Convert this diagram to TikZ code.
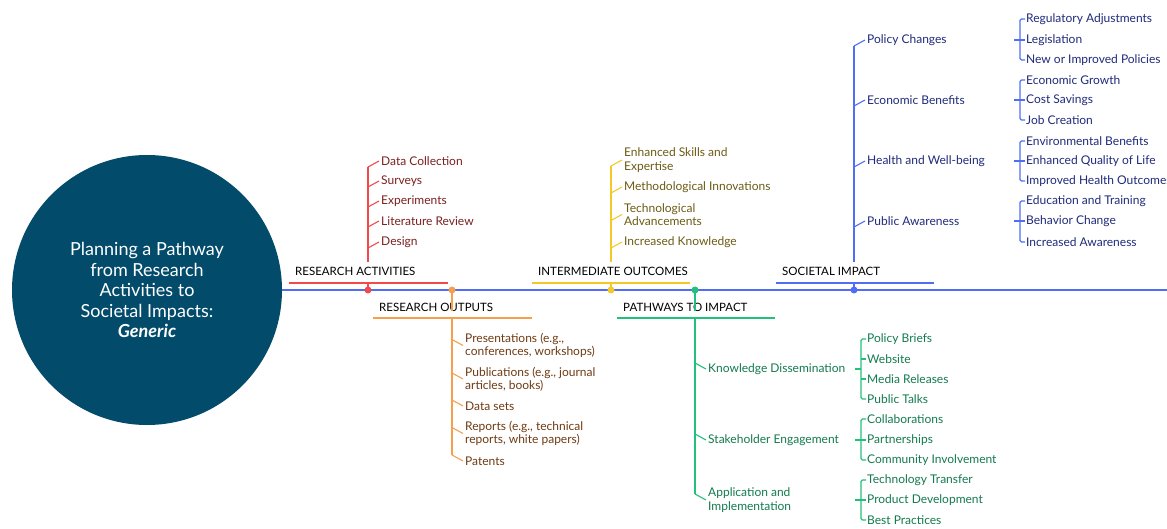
\documentclass[tikz,border=0pt]{standalone}
\usepackage{fontspec}
\setmainfont{Lato}
\usetikzlibrary{calc}
\definecolor{circ}{HTML}{034B6B}
\definecolor{mainb}{HTML}{4F6EF5}
\definecolor{redl}{HTML}{F24A4A}
\definecolor{redt}{HTML}{7A1F1F}
\definecolor{orl}{HTML}{F5A04E}
\definecolor{ort}{HTML}{6E3A12}
\definecolor{yel}{HTML}{F5C82A}
\definecolor{yet}{HTML}{6B5B14}
\definecolor{grl}{HTML}{22C07A}
\definecolor{grt}{HTML}{137A4E}
\definecolor{blt}{HTML}{1F2A7A}
\newcommand\brk[5]{%
  \draw[#1] (#5 |- #2.west) -- ++(6,0);
  \draw[#1,rounded corners=1.5pt] ($(#3.west)+(-1,0)$) -| ($(#4.west)+(-6,0)$) -- ($(#4.west)+(-1,0)$);
}
\newcommand\midtick[2]{\draw[#1] ($(#2.west)+(-6,0)$) -- ($(#2.west)+(-1,0)$);}
\begin{document}
\begin{tikzpicture}[x=1pt,y=-1pt,
  leaf/.style={anchor=west, inner sep=0pt, font=\fontsize{12}{13.5}\selectfont, align=left},
  head/.style={anchor=west, inner sep=0pt, font=\fontsize{11.5}{12}\selectfont, text=black},
  dotn/.style={circle, inner sep=0pt, minimum size=7pt},
  thin/.style={line width=1.1pt},
  uline/.style={line width=1.5pt}]
\useasboundingbox (0,0) rectangle (1167,529);
\clip (0,0) rectangle (1167,529);
% centre
\node[circle, fill=circ, minimum size=270pt, text=white, align=center,
  font=\fontsize{18}{20.5}\selectfont] (c) at (147,290)
  {Planning a Pathway\\from Research\\Activities to\\Societal Impacts:\\\textbf{\textit{Generic}}};
\coordinate (endR) at (1167,290);
\draw[mainb, uline] (c.east) -- (endR);

% ---------- RESEARCH ACTIVITIES
\coordinate (raD) at (368,290);
\coordinate (raT) at (368,262);
\coordinate (raL) at (289,283); \coordinate (raR) at (448,283);
\node[head] (ra) at (295,271) {RESEARCH ACTIVITIES};
\draw[redl, uline] (raL) -- (raR);
\node[leaf, text=redt] (ra1) at (381,161) {Data Collection};
\node[leaf, text=redt] (ra2) at (381,181) {Surveys};
\node[leaf, text=redt] (ra3) at (381,201) {Experiments};
\node[leaf, text=redt] (ra4) at (381,221) {Literature Review};
\node[leaf, text=redt] (ra5) at (381,242) {Design};
\draw[redl, thin] (raT) -- ($(raD |- ra1.west)+(0,6)$);
\draw[redl, thin] (raD) -- (raD |- raL);
\foreach \n in {ra1,ra2,ra3,ra4,ra5}
  \draw[redl, thin] ($(raD |- \n.west)+(0,6)$) -- ($(\n.west)+(-2,0)$);
\node[dotn, fill=redl] (raDot) at (raD) {};

% ---------- RESEARCH OUTPUTS
\coordinate (roD) at (452,290);
\coordinate (roL) at (373,318); \coordinate (roR) at (532,318);
\node[head] (ro) at (379,307) {RESEARCH OUTPUTS};
\node[leaf, text=ort] (ro1) at (465,345.5) {Presentations (e.g.,\\conferences, workshops)};
\node[leaf, text=ort] (ro2) at (465,379) {Publications (e.g., journal\\articles, books)};
\node[leaf, text=ort] (ro3) at (465,406) {Data sets};
\node[leaf, text=ort] (ro4) at (465,433.5) {Reports (e.g., technical\\reports, white papers)};
\node[leaf, text=ort] (ro5) at (465,461) {Patents};
\draw[orl, thin] (roD) -- (roD |- ro.south);
\draw[orl, uline] (roL) -- (roR);
\draw[orl, thin] (roD |- roL) -- ($(roD |- ro5.west)+(0,-6)$);
\foreach \n in {ro1,ro2,ro3,ro4,ro5}
  \draw[orl, thin] ($(roD |- \n.west)+(0,-6)$) -- ($(\n.west)+(-2,0)$);
\node[dotn, fill=orl] (roDot) at (roD) {};

% ---------- INTERMEDIATE OUTCOMES
\coordinate (ioD) at (611,290);
\coordinate (ioT) at (611,262);
\coordinate (ioL) at (532,283); \coordinate (ioR) at (690,283);
\node[head] (io) at (538,271) {INTERMEDIATE OUTCOMES};
\draw[yel, uline] (ioL) -- (ioR);
\node[leaf, text=yet] (io1) at (624,160) {Enhanced Skills and\\Expertise};
\node[leaf, text=yet] (io2) at (624,187) {Methodological Innovations};
\node[leaf, text=yet] (io3) at (624,214.5) {Technological\\Advancements};
\node[leaf, text=yet] (io4) at (624,242) {Increased Knowledge};
\draw[yel, thin] (ioT) -- ($(ioD |- io1.west)+(0,6)$);
\draw[yel, thin] (ioD) -- (ioD |- ioL);
\foreach \n in {io1,io2,io3,io4}
  \draw[yel, thin] ($(ioD |- \n.west)+(0,6)$) -- ($(\n.west)+(-2,0)$);
\node[dotn, fill=yel] (ioDot) at (ioD) {};

% ---------- PATHWAYS TO IMPACT
\coordinate (piD) at (695,290);
\coordinate (piL) at (617,318); \coordinate (piR) at (775,318);
\coordinate (piS) at (855,0);
\node[head] (pi) at (623,307) {PATHWAYS TO IMPACT};
\node[leaf, text=grt] (pi1) at (708,369) {Knowledge Dissemination};
\node[leaf, text=grt] (pi2) at (708,440) {Stakeholder Engagement};
\node[leaf, text=grt] (pi3) at (708,500) {Application and\\Implementation};
\draw[grl, thin] (piD) -- (piD |- pi.south);
\draw[grl, uline] (piL) -- (piR);
\draw[grl, thin] (piD |- piL) -- ($(piD |- pi3.west)+(0,-6)$);
\foreach \n in {pi1,pi2,pi3}
  \draw[grl, thin] ($(piD |- \n.west)+(0,-6)$) -- ($(\n.west)+(-2,0)$);
\node[dotn, fill=grl] (piDot) at (piD) {};
\node[leaf, text=grt] (k1) at (867,339) {Policy Briefs};
\node[leaf, text=grt] (k2) at (867,359) {Website};
\node[leaf, text=grt] (k3) at (867,379) {Media Releases};
\node[leaf, text=grt] (k4) at (867,399) {Public Talks};
\node[leaf, text=grt] (s1) at (867,419) {Collaborations};
\node[leaf, text=grt] (s2) at (867,440) {Partnerships};
\node[leaf, text=grt] (s3) at (867,460) {Community Involvement};
\node[leaf, text=grt] (a1) at (867,480) {Technology Transfer};
\node[leaf, text=grt] (a2) at (867,500) {Product Development};
\node[leaf, text=grt] (a3) at (867,520) {Best Practices};
\brk{grl,thin}{pi1}{k1}{k4}{piS}
\midtick{grl,thin}{k2}\midtick{grl,thin}{k3}
\brk{grl,thin}{pi2}{s1}{s3}{piS}
\midtick{grl,thin}{s2}
\brk{grl,thin}{pi3}{a1}{a3}{piS}
\midtick{grl,thin}{a2}

% ---------- SOCIETAL IMPACT
\coordinate (siD) at (854,290);
\coordinate (siT) at (854,262);
\coordinate (siL) at (776,283); \coordinate (siR) at (934,283);
\coordinate (siS) at (1014,0);
\node[head] (si) at (782,271) {SOCIETAL IMPACT};
\draw[mainb, uline] (siL) -- (siR);
\node[leaf, text=blt] (p1) at (867,40) {Policy Changes};
\node[leaf, text=blt] (p2) at (867,100) {Economic Benefits};
\node[leaf, text=blt] (p3) at (867,161) {Health and Well-being};
\node[leaf, text=blt] (p4) at (867,221) {Public Awareness};
\draw[mainb, thin] (siT) -- ($(siD |- p1.west)+(0,6)$);
\draw[mainb, thin] (siD) -- (siD |- siL);
\foreach \n in {p1,p2,p3,p4}
  \draw[mainb, thin] ($(siD |- \n.west)+(0,6)$) -- ($(\n.west)+(-2,0)$);
\node[dotn, fill=mainb] (siDot) at (siD) {};
\node[leaf, text=blt] (q1) at (1026,19) {Regulatory Adjustments};
\node[leaf, text=blt] (q2) at (1026,40) {Legislation};
\node[leaf, text=blt] (q3) at (1026,60) {New or Improved Policies};
\node[leaf, text=blt] (e1) at (1026,80) {Economic Growth};
\node[leaf, text=blt] (e2) at (1026,100) {Cost Savings};
\node[leaf, text=blt] (e3) at (1026,120) {Job Creation};
\node[leaf, text=blt] (h1) at (1026,141) {Environmental Benefits};
\node[leaf, text=blt] (h2) at (1026,161) {Enhanced Quality of Life};
\node[leaf, text=blt] (h3) at (1026,181) {Improved Health Outcomes};
\node[leaf, text=blt] (w1) at (1026,201) {Education and Training};
\node[leaf, text=blt] (w2) at (1026,221) {Behavior Change};
\node[leaf, text=blt] (w3) at (1026,242) {Increased Awareness};
\brk{mainb,thin}{p1}{q1}{q3}{siS}\midtick{mainb,thin}{q2}
\brk{mainb,thin}{p2}{e1}{e3}{siS}\midtick{mainb,thin}{e2}
\brk{mainb,thin}{p3}{h1}{h3}{siS}\midtick{mainb,thin}{h2}
\brk{mainb,thin}{p4}{w1}{w3}{siS}\midtick{mainb,thin}{w2}
\end{tikzpicture}
\end{document}
